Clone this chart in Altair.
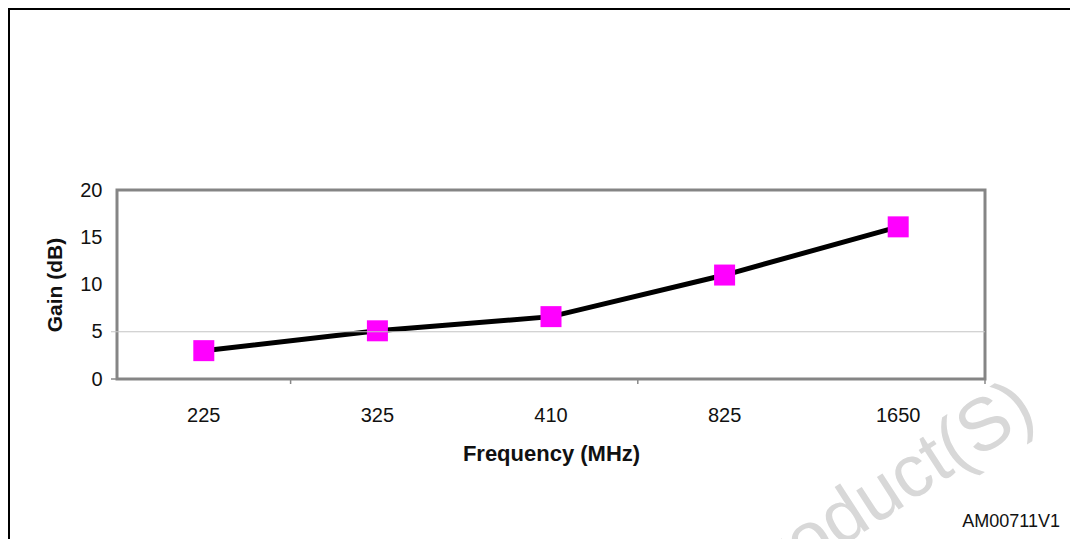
import altair as alt
import pandas as pd

# ---- data ----
freq = ["225", "325", "410", "825", "1650"]
gain = [3.0, 5.1, 6.6, 11.0, 16.1]
y_ticks = [0, 5, 10, 15, 20]
grid_at = [5]
low_tick = [0]
boundary_ticks = ["225", "410", "1650"]
code_label = ["AM00711V1"]
watermark = ["Obsolete Product(S)"]

W, H = 868, 189
FONT = "Liberation Sans"

df = pd.DataFrame({"freq": freq, "gain": gain})

xscale = alt.Scale(type="band", domain=freq, paddingInner=0, paddingOuter=0)
yscale = alt.Scale(domain=[0, 20], nice=False, zero=True)

x_axis = alt.Axis(
    title="Frequency (MHz)", ticks=False, domain=False, grid=False, labelAngle=0,
    labelFont=FONT, labelFontSize=20, labelPadding=26, labelBaseline="top", labelColor="#111111",
    titleFont=FONT, titleFontSize=22, titleFontWeight="bold", titleBaseline="alphabetic",
    titleY=81, titleColor="#111111",
)
y_axis = alt.Axis(
    title="Gain (dB)", values=y_ticks, ticks=False, domain=False, grid=False,
    labelFont=FONT, labelFontSize=20, labelPadding=15, labelColor="#111111",
    titleFont=FONT, titleFontSize=21, titleFontWeight="bold", titleBaseline="middle",
    titleX=-62, titleColor="#111111",
)

base = alt.Chart(df)
line = base.mark_line(color="black", strokeWidth=5).encode(
    x=alt.X("freq:N", scale=xscale, sort=freq, bandPosition=0.5, axis=x_axis),
    y=alt.Y("gain:Q", scale=yscale, axis=y_axis),
)
pts = base.mark_point(shape="square", size=441, filled=True, color="#ff00ff", opacity=1).encode(
    x=alt.X("freq:N", scale=xscale, sort=freq, bandPosition=0.5, axis=x_axis),
    y=alt.Y("gain:Q", scale=yscale, axis=y_axis),
)

wm = alt.Chart(pd.DataFrame({"t": watermark})).mark_text(
    angle=327, fontSize=74, color="#d8d8d8", align="right", baseline="middle", font=FONT
).encode(x=alt.value(910), y=alt.value(210), text="t:N")

grid = alt.Chart(pd.DataFrame({"gain": grid_at})).mark_rule(color="#c4c4c4", strokeWidth=1).encode(
    y=alt.Y("gain:Q", scale=yscale, axis=y_axis), x=alt.value(-6), x2=alt.value(W)
)
ltick = alt.Chart(pd.DataFrame({"gain": low_tick})).mark_rule(color="#888888", strokeWidth=1.5).encode(
    y=alt.Y("gain:Q", scale=yscale, axis=y_axis), x=alt.value(-6), x2=alt.value(0)
)
btick = alt.Chart(pd.DataFrame({"freq": boundary_ticks})).mark_rule(color="#888888", strokeWidth=1.5).encode(
    x=alt.X("freq:N", scale=xscale, sort=freq, bandPosition=1, axis=x_axis), y=alt.value(H), y2=alt.value(H + 5)
)

frame = alt.Chart(pd.DataFrame({"k": [1]})).mark_rect(
    fill=None, stroke="black", strokeWidth=3, fillOpacity=0
).encode(x=alt.value(-108.5), x2=alt.value(W + 300), y=alt.value(-181.5), y2=alt.value(H + 300))

label = alt.Chart(pd.DataFrame({"t": code_label})).mark_text(
    fontSize=18, font=FONT, align="right", baseline="alphabetic", color="#111111"
).encode(x=alt.value(943), y=alt.value(337), text="t:N")

chart = alt.layer(line, pts, wm, grid, ltick, btick, frame, label).properties(
    width=W, height=H,
    autosize=alt.AutoSizeParams(type="none"),
    padding={"left": 109, "top": 182, "right": 85, "bottom": 160},
    background="white",
).configure_view(stroke="#858585", strokeWidth=3)

chart.save("out.html", embed_options={"renderer": "svg", "actions": False})
